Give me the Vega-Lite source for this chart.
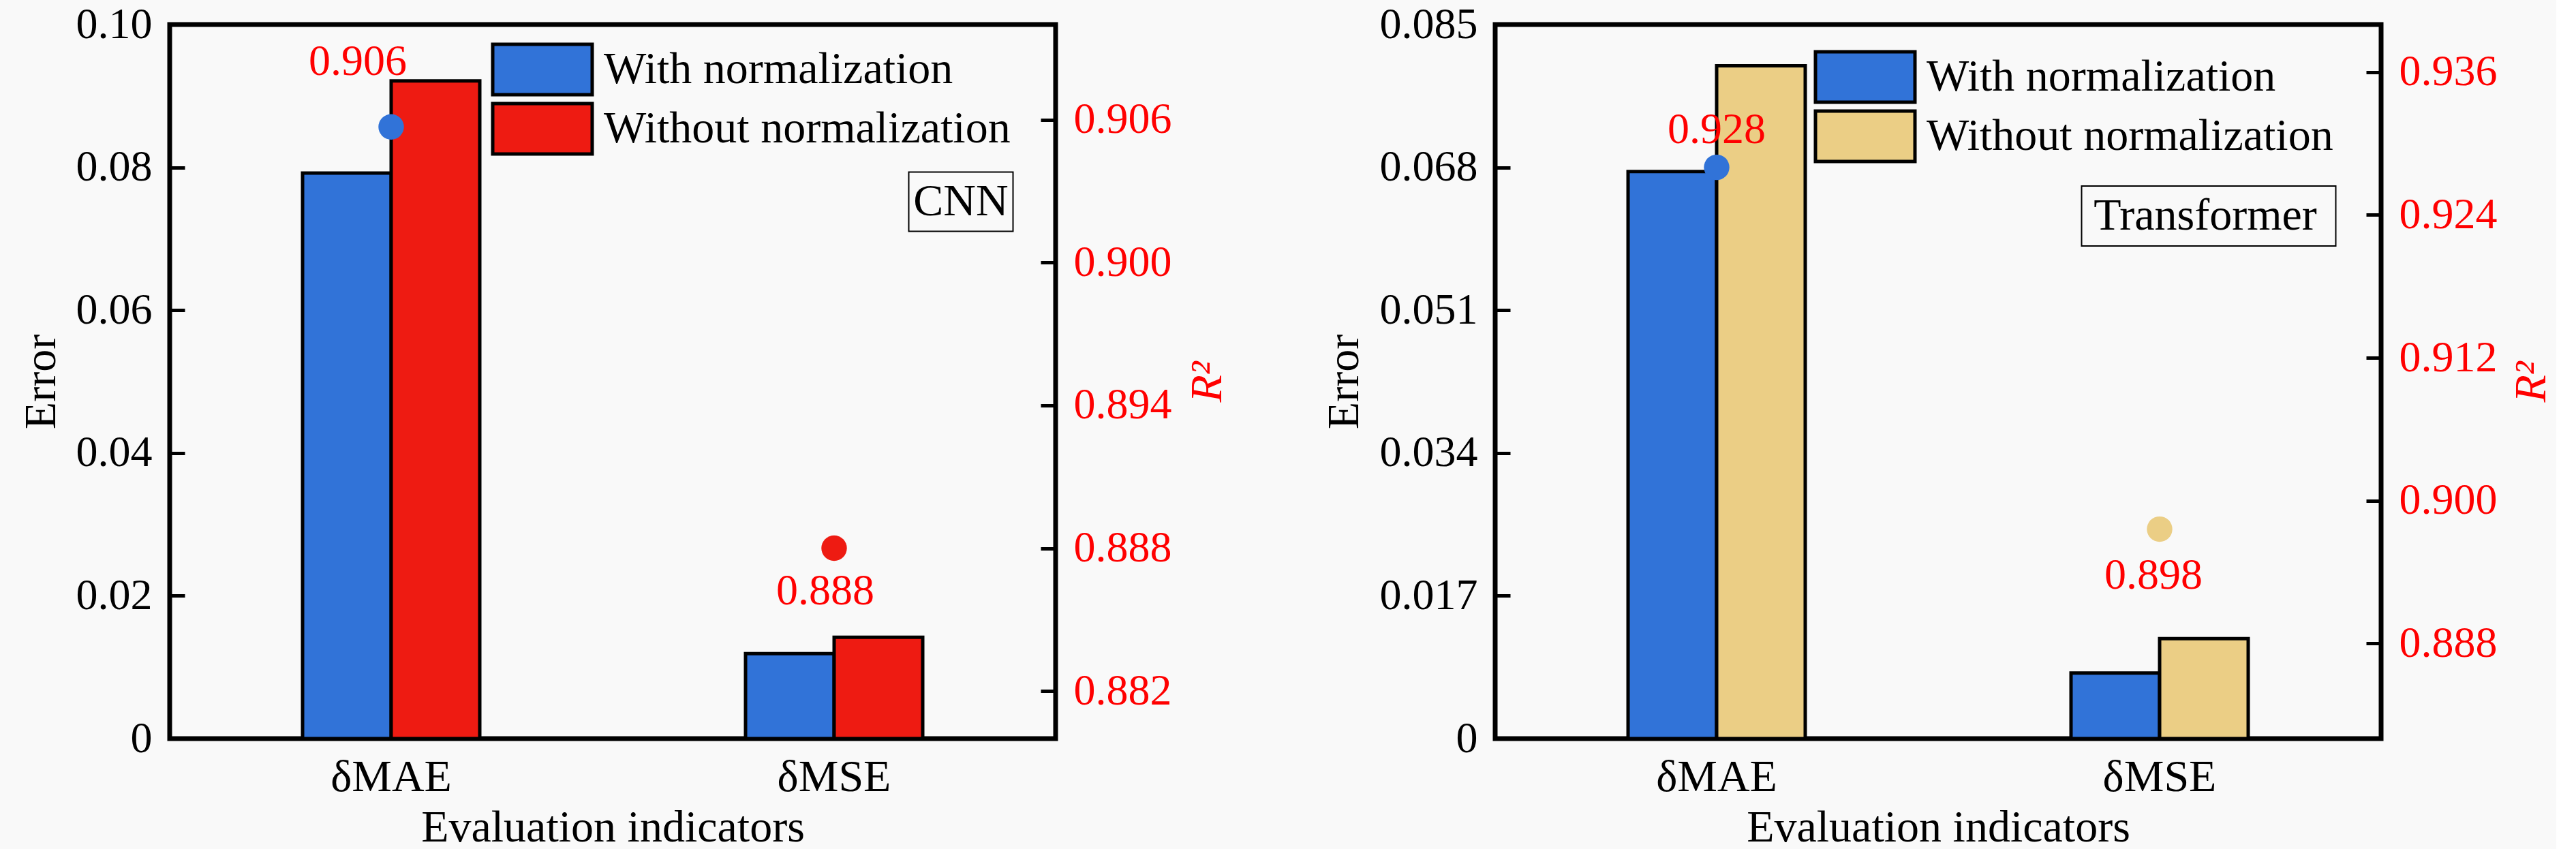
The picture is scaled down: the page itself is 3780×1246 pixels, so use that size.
{
  "$schema": "https://vega.github.io/schema/vega-lite/v6.json",
  "description": "Error bars and R2 points, with and without normalization, for CNN and Transformer.",
  "background": "#F9F9F9",
  "padding": {"left": 23, "top": 0, "right": 0, "bottom": 0},
  "bounds": "flush",
  "spacing": 645,
  "datasets": {
    "cnn_bars": [
      {"metric": "δMAE", "series": "With normalization", "error": 0.0792},
      {"metric": "δMAE", "series": "Without normalization", "error": 0.0921},
      {"metric": "δMSE", "series": "With normalization", "error": 0.0119},
      {"metric": "δMSE", "series": "Without normalization", "error": 0.0142}
    ],
    "cnn_r2": [
      {"metric": "δMAE", "series": "With normalization", "r2": 0.9057},
      {"metric": "δMSE", "series": "Without normalization", "r2": 0.888}
    ],
    "cnn_tag": [
      {"metric": "δMSE", "error": 0.0752, "tag": "CNN"}
    ],
    "tf_bars": [
      {"metric": "δMAE", "series": "With normalization", "error": 0.0675},
      {"metric": "δMAE", "series": "Without normalization", "error": 0.0801},
      {"metric": "δMSE", "series": "With normalization", "error": 0.0078},
      {"metric": "δMSE", "series": "Without normalization", "error": 0.0119}
    ],
    "tf_r2": [
      {"metric": "δMAE", "series": "With normalization", "r2": 0.928},
      {"metric": "δMSE", "series": "Without normalization", "r2": 0.8976}
    ],
    "tf_tag": [
      {"metric": "δMSE", "error": 0.0622, "tag": "Transformer"}
    ]
  },
  "resolve": {
    "scale": {"x": "independent", "y": "independent", "color": "independent"},
    "legend": {"color": "independent"}
  },
  "hconcat": [
    {
      "width": 1300,
      "height": 1048,
      "layer": [
        {
          "data": {"name": "cnn_bars"},
          "mark": {"type": "bar", "stroke": "#000000", "strokeWidth": 5},
          "encoding": {
            "x": {
              "field": "metric", "type": "nominal",
              "scale": {"paddingInner": 0.6, "paddingOuter": 0.3},
              "axis": {
                "title": "Evaluation indicators", "labelAngle": 0, "ticks": false, "tickSize": 0,
                "labelPadding": 76, "labelBaseline": "alphabetic", "labelFontSize": 66,
                "titleX": 650, "titleY": 150, "titleBaseline": "alphabetic", "titleAlign": "center"
              }
            },
            "xOffset": {
              "field": "series", "type": "nominal",
              "scale": {"paddingInner": 0, "paddingOuter": 0}
            },
            "y": {
              "field": "error", "type": "quantitative",
              "scale": {"domain": [0, 0.1], "nice": false},
              "axis": {
                "title": "Error",
                "values": [0, 0.02, 0.04, 0.06, 0.08, 0.1],
                "labelExpr": "datum.value == 0 ? '0' : format(datum.value, '.2f')",
                "titleX": -189, "titleY": 524, "titleAngle": 270,
                "titleBaseline": "middle", "titleAlign": "center"
              }
            },
            "color": {
              "field": "series", "type": "nominal",
              "scale": {
                "domain": ["With normalization", "Without normalization"],
                "range": ["#3173D8", "#EE1B12"]
              },
              "legend": {
                "orient": "none", "legendX": 508, "legendY": 27, "title": null, "padding": 0,
                "symbolType": "M-2,-1.0137H2V1.0137H-2Z", "symbolSize": 5329,
                "symbolStrokeColor": "#000000", "symbolStrokeWidth": 5, "symbolOpacity": 1,
                "labelFont": "Liberation Serif", "labelFontSize": 66, "labelOffset": 51,
                "labelColor": "#000000", "labelLimit": 0, "rowPadding": -26
              }
            }
          }
        },
        {
          "data": {"name": "cnn_tag"},
          "mark": {
            "type": "point", "shape": "M-1,-0.5686H1V0.5686H-1Z", "size": 23409,
            "filled": false, "stroke": "#000000", "strokeWidth": 2, "opacity": 1, "xOffset": 186
          },
          "encoding": {
            "x": {"field": "metric", "type": "nominal"},
            "y": {"field": "error", "type": "quantitative", "scale": {"domain": [0, 0.1], "nice": false}, "axis": null}
          }
        },
        {
          "data": {"name": "cnn_tag"},
          "mark": {"type": "text", "xOffset": 186, "font": "Liberation Serif", "fontSize": 66, "color": "#000000", "baseline": "middle"},
          "encoding": {
            "x": {"field": "metric", "type": "nominal"},
            "y": {"field": "error", "type": "quantitative", "scale": {"domain": [0, 0.1], "nice": false}, "axis": null},
            "text": {"field": "tag"}
          }
        },
        {
          "data": {"name": "cnn_r2"},
          "mark": {"type": "circle", "size": 1400, "opacity": 1},
          "encoding": {
            "x": {"field": "metric", "type": "nominal"},
            "y": {
              "field": "r2", "type": "quantitative",
              "scale": {"domain": [0.88, 0.91], "nice": false, "zero": false},
              "axis": {
                "orient": "right", "title": "R²",
                "values": [0.882, 0.888, 0.894, 0.9, 0.906], "format": ".3f",
                "labelColor": "#FF0000", "titleColor": "#FF0000", "titleFontStyle": "italic",
                "titleX": 222, "titleY": 524, "titleAngle": 270,
                "titleBaseline": "middle", "titleAlign": "center"
              }
            },
            "color": {
              "field": "series", "type": "nominal",
              "scale": {
                "domain": ["With normalization", "Without normalization"],
                "range": ["#3173D8", "#EE1B12"]
              },
              "legend": null
            }
          }
        },
        {
          "data": {"name": "cnn_r2"},
          "transform": [{"filter": "datum.metric == 'δMAE'"}],
          "mark": {"type": "text", "font": "Liberation Serif", "fontSize": 64, "color": "#FF0000", "dx": -49, "dy": -95, "baseline": "middle"},
          "encoding": {
            "x": {"field": "metric", "type": "nominal"},
            "y": {"field": "r2", "type": "quantitative", "scale": {"domain": [0.88, 0.91], "nice": false, "zero": false}, "axis": null},
            "text": {"field": "r2", "type": "quantitative", "format": ".3f"}
          }
        },
        {
          "data": {"name": "cnn_r2"},
          "transform": [{"filter": "datum.metric == 'δMSE'"}],
          "mark": {"type": "text", "font": "Liberation Serif", "fontSize": 64, "color": "#FF0000", "dx": -13, "dy": 63, "baseline": "middle"},
          "encoding": {
            "x": {"field": "metric", "type": "nominal"},
            "y": {"field": "r2", "type": "quantitative", "scale": {"domain": [0.88, 0.91], "nice": false, "zero": false}, "axis": null},
            "text": {"field": "r2", "type": "quantitative", "format": ".3f"}
          }
        }
      ],
      "resolve": {"scale": {"y": "independent"}}
    },
    {
      "width": 1300,
      "height": 1048,
      "layer": [
        {
          "data": {"name": "tf_bars"},
          "mark": {"type": "bar", "stroke": "#000000", "strokeWidth": 5},
          "encoding": {
            "x": {
              "field": "metric", "type": "nominal",
              "scale": {"paddingInner": 0.6, "paddingOuter": 0.3},
              "axis": {
                "title": "Evaluation indicators", "labelAngle": 0, "ticks": false, "tickSize": 0,
                "labelPadding": 76, "labelBaseline": "alphabetic", "labelFontSize": 66,
                "titleX": 650, "titleY": 150, "titleBaseline": "alphabetic", "titleAlign": "center"
              }
            },
            "xOffset": {
              "field": "series", "type": "nominal",
              "scale": {"paddingInner": 0, "paddingOuter": 0}
            },
            "y": {
              "field": "error", "type": "quantitative",
              "scale": {"domain": [0, 0.085], "nice": false},
              "axis": {
                "title": "Error",
                "values": [0, 0.017, 0.034, 0.051, 0.068, 0.085],
                "labelExpr": "datum.value == 0 ? '0' : format(datum.value, '.3f')",
                "titleX": -222, "titleY": 524, "titleAngle": 270,
                "titleBaseline": "middle", "titleAlign": "center"
              }
            },
            "color": {
              "field": "series", "type": "nominal",
              "scale": {
                "domain": ["With normalization", "Without normalization"],
                "range": ["#3173D8", "#EBCE85"]
              },
              "legend": {
                "orient": "none", "legendX": 504, "legendY": 38, "title": null, "padding": 0,
                "symbolType": "M-2,-1.0137H2V1.0137H-2Z", "symbolSize": 5329,
                "symbolStrokeColor": "#000000", "symbolStrokeWidth": 5, "symbolOpacity": 1,
                "labelFont": "Liberation Serif", "labelFontSize": 66, "labelOffset": 51,
                "labelColor": "#000000", "labelLimit": 0, "rowPadding": -25
              }
            }
          }
        },
        {
          "data": {"name": "tf_tag"},
          "mark": {
            "type": "point", "shape": "M-1,-0.236H1V0.236H-1Z", "size": 139129,
            "filled": false, "stroke": "#000000", "strokeWidth": 2, "opacity": 1, "xOffset": 72
          },
          "encoding": {
            "x": {"field": "metric", "type": "nominal"},
            "y": {"field": "error", "type": "quantitative", "scale": {"domain": [0, 0.085], "nice": false}, "axis": null}
          }
        },
        {
          "data": {"name": "tf_tag"},
          "mark": {"type": "text", "xOffset": 67, "font": "Liberation Serif", "fontSize": 66, "color": "#000000", "baseline": "middle"},
          "encoding": {
            "x": {"field": "metric", "type": "nominal"},
            "y": {"field": "error", "type": "quantitative", "scale": {"domain": [0, 0.085], "nice": false}, "axis": null},
            "text": {"field": "tag"}
          }
        },
        {
          "data": {"name": "tf_r2"},
          "mark": {"type": "circle", "size": 1400, "opacity": 1},
          "encoding": {
            "x": {"field": "metric", "type": "nominal"},
            "y": {
              "field": "r2", "type": "quantitative",
              "scale": {"domain": [0.88, 0.94], "nice": false, "zero": false},
              "axis": {
                "orient": "right", "title": "R²",
                "values": [0.888, 0.9, 0.912, 0.924, 0.936], "format": ".3f",
                "labelColor": "#FF0000", "titleColor": "#FF0000", "titleFontStyle": "italic",
                "titleX": 220, "titleY": 524, "titleAngle": 270,
                "titleBaseline": "middle", "titleAlign": "center"
              }
            },
            "color": {
              "field": "series", "type": "nominal",
              "scale": {
                "domain": ["With normalization", "Without normalization"],
                "range": ["#3173D8", "#EBCE85"]
              },
              "legend": null
            }
          }
        },
        {
          "data": {"name": "tf_r2"},
          "transform": [{"filter": "datum.metric == 'δMAE'"}],
          "mark": {"type": "text", "font": "Liberation Serif", "fontSize": 64, "color": "#FF0000", "dx": 0, "dy": -55, "baseline": "middle"},
          "encoding": {
            "x": {"field": "metric", "type": "nominal"},
            "y": {"field": "r2", "type": "quantitative", "scale": {"domain": [0.88, 0.94], "nice": false, "zero": false}, "axis": null},
            "text": {"field": "r2", "type": "quantitative", "format": ".3f"}
          }
        },
        {
          "data": {"name": "tf_r2"},
          "transform": [{"filter": "datum.metric == 'δMSE'"}],
          "mark": {"type": "text", "font": "Liberation Serif", "fontSize": 64, "color": "#FF0000", "dx": -9, "dy": 68, "baseline": "middle"},
          "encoding": {
            "x": {"field": "metric", "type": "nominal"},
            "y": {"field": "r2", "type": "quantitative", "scale": {"domain": [0.88, 0.94], "nice": false, "zero": false}, "axis": null},
            "text": {"field": "r2", "type": "quantitative", "format": ".3f"}
          }
        }
      ],
      "resolve": {"scale": {"y": "independent"}}
    }
  ],
  "config": {
    "font": "Liberation Serif",
    "view": {"stroke": "#000000", "strokeWidth": 7},
    "text": {"font": "Liberation Serif"},
    "axis": {
      "grid": false,
      "domain": false,
      "labelFont": "Liberation Serif",
      "titleFont": "Liberation Serif",
      "labelFontSize": 64,
      "labelColor": "#000000",
      "labelFlush": false,
      "labelOverlap": false,
      "labelPadding": 48,
      "titleFontSize": 66,
      "titleFontWeight": "normal",
      "titleColor": "#000000",
      "tickColor": "#000000",
      "tickWidth": 5,
      "tickSize": -22
    },
    "legend": {"labelFont": "Liberation Serif"}
  }
}
